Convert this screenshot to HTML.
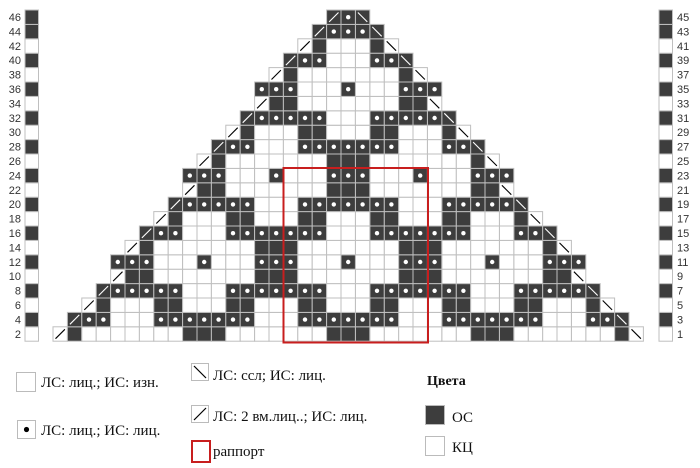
<!DOCTYPE html>
<html><head><meta charset="utf-8"><style>
html,body{margin:0;padding:0;background:#fff;width:700px;height:468px;overflow:hidden}
svg{display:block}
</style></head><body>
<svg id="s" width="700" height="468" xmlns="http://www.w3.org/2000/svg"></svg>
<script>
var rows={
46:[19,"So"],44:[18,"Soo"],42:[17,"/dww"],40:[16,"Sooww"],38:[15,"/dwwww"],
36:[14,"ooowwwo"],34:[14,"/ddwwww"],32:[13,"Sooooooww"],30:[12,"/dwwwddww"],
28:[11,"Soowwwoooo"],26:[10,"/dwwwwwwwdd"],24:[9,"ooowwwowwwoo"],
22:[9,"/ddwwwwwwwdd"],20:[8,"Sooooowwwoooo"],18:[7,"/dwwwddwwwddww"],
16:[6,"Soowwwoooooooww"],14:[5,"/dwwwwwwwdddwwww"],12:[4,"ooowwwowwwooowwwo"],
10:[4,"/ddwwwwwwwdddwwww"],8:[3,"Sooooowwwoooooooww"],6:[2,"/dwwwddwwwddwwwddww"],
4:[1,"Soowwwooooooowwwoooo"],2:[0,"/dwwwwwwwdddwwwwwwwdd"]};
var W=14.4,X0=53,Y0=10,D="#3d3d3d",G="#bfbfbf";
var o=[];
function cell(c,r,t,mir){
 var x=X0+c*W,y=Y0+(46-r)/2*W;
 var dark=(t=='d'||t=='o'||t=='S');
 o.push('<rect x="'+x+'" y="'+y+'" width="'+W+'" height="'+W+'" fill="'+(dark?D:'#fff')+'" stroke="'+G+'" stroke-width="1"/>');
 if(t=='o')o.push('<circle cx="'+(x+W/2)+'" cy="'+(y+W/2)+'" r="2.2" fill="#fff"/>');
 if(t=='S'||t=='/'){
  var col=dark?'#fff':'#000';
  if(!mir)o.push('<line x1="'+(x+2.5)+'" y1="'+(y+W-2.5)+'" x2="'+(x+W-2.5)+'" y2="'+(y+2.5)+'" stroke="'+col+'" stroke-width="1.1"/>');
  else o.push('<line x1="'+(x+2.5)+'" y1="'+(y+2.5)+'" x2="'+(x+W-2.5)+'" y2="'+(y+W-2.5)+'" stroke="'+col+'" stroke-width="1.1"/>');
 }
}
for(var r in rows){
 var st=rows[r][0],s=rows[r][1];r=+r;
 for(var i=0;i<s.length;i++){var c=st+i;cell(c,r,s[i],false);if(c!=20)cell(40-c,r,s[i],true);}
 var y=Y0+(46-r)/2*W;
 var pd=[46,44,40,36,32,28,24,20,16,12,8,4].indexOf(r)>=0;
 o.push('<rect x="25" y="'+y+'" width="13.5" height="'+W+'" fill="'+(pd?D:'#fff')+'" stroke="'+G+'"/>');
 o.push('<rect x="659" y="'+y+'" width="13.5" height="'+W+'" fill="'+(pd?D:'#fff')+'" stroke="'+G+'"/>');
 o.push('<text x="21" y="'+(y+11)+'" text-anchor="end" font-family="Liberation Sans,sans-serif" font-size="11" fill="#333">'+r+'</text>');
 o.push('<text x="677" y="'+(y+11)+'" font-family="Liberation Sans,sans-serif" font-size="11" fill="#333">'+(r-1)+'</text>');
}
o.push('<rect x="283.5" y="168" width="144.5" height="174.5" fill="none" stroke="#c81e1e" stroke-width="2"/>');
var F='font-family="Liberation Serif,serif" font-size="15" fill="#111"';
o.push('<rect x="16.5" y="372.5" width="19" height="19" fill="#fff" stroke="#bbb"/>');
o.push('<text x="41" y="387" '+F+'>ЛС: лиц.; ИС: изн.</text>');
o.push('<rect x="17.5" y="420.5" width="18" height="18" fill="#fff" stroke="#bbb"/>');
o.push('<circle cx="26.5" cy="429.5" r="2.6" fill="#000"/>');
o.push('<text x="41" y="435" '+F+'>ЛС: лиц.; ИС: лиц.</text>');
o.push('<rect x="191.5" y="363.5" width="17" height="17" fill="#fff" stroke="#bbb"/><line x1="194" y1="366" x2="206" y2="378" stroke="#000" stroke-width="1.2"/>');
o.push('<text x="213" y="380" '+F+'>ЛС: ссл; ИС: лиц.</text>');
o.push('<rect x="191.5" y="405.5" width="17" height="17" fill="#fff" stroke="#bbb"/><line x1="194" y1="420" x2="206" y2="408" stroke="#000" stroke-width="1.2"/>');
o.push('<text x="213" y="421" '+F+'>ЛС: 2 вм.лиц..; ИС: лиц.</text>');
o.push('<rect x="192" y="441" width="18" height="21" fill="#fff" stroke="#c81e1e" stroke-width="2"/>');
o.push('<text x="213" y="456" '+F+'>раппорт</text>');
o.push('<text x="427" y="385" font-family="Liberation Serif,serif" font-size="14" font-weight="bold" fill="#111">Цвета</text>');
o.push('<rect x="425.5" y="405.5" width="19" height="19" fill="'+D+'" stroke="#bbb"/>');
o.push('<text x="452" y="422" '+F+'>ОС</text>');
o.push('<rect x="425.5" y="436.5" width="19" height="19" fill="#fff" stroke="#bbb"/>');
o.push('<text x="452" y="452" '+F+'>КЦ</text>');
document.getElementById('s').innerHTML=o.join('');
</script>
</body></html>
